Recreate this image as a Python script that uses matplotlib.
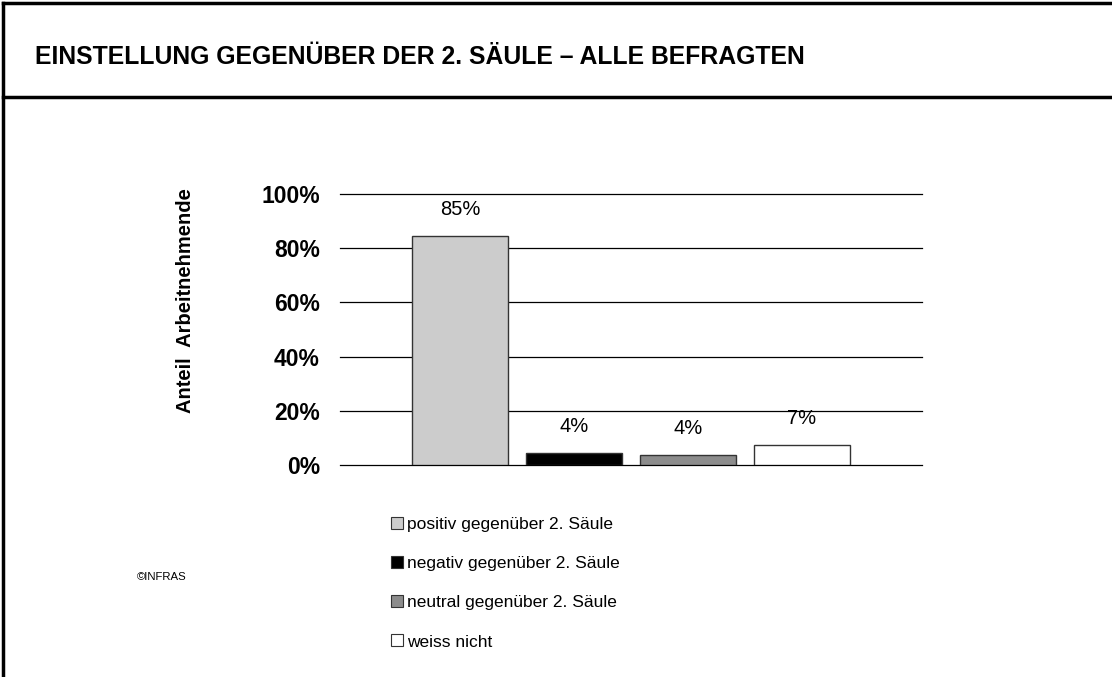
import matplotlib
matplotlib.use("Agg")
import matplotlib.pyplot as plt
from matplotlib.patches import Patch
from matplotlib.lines import Line2D
from matplotlib.ticker import PercentFormatter

# data
categories = ["positiv gegenüber 2. Säule", "negativ gegenüber 2. Säule",
              "neutral gegenüber 2. Säule", "weiss nicht"]
shares = [84.5, 4.4, 3.7, 7.4]
value_labels = ["85%", "4%", "4%", "7%"]
bar_colors = ["#cccccc", "#000000", "#8c8c8c", "#ffffff"]
yticks = [0, 20, 40, 60, 80, 100]

title = "EINSTELLUNG GEGENÜBER DER 2. SÄULE – ALLE BEFRAGTEN"
ylabel = "Anteil  Arbeitnehmende"

plt.rcParams["font.family"] = ["Liberation Sans", "DejaVu Sans"]

W, H = 1112, 677
fig = plt.figure(figsize=(W / 100, H / 100), dpi=100)

# frame lines of the slide
fig.add_artist(Line2D([3 / W, 3 / W], [0, 1 - 3 / H], color="black", lw=2.5))
fig.add_artist(Line2D([3 / W, 1], [1 - 3 / H, 1 - 3 / H], color="black", lw=2.5))
fig.add_artist(Line2D([3 / W, 1], [1 - 97 / H, 1 - 97 / H], color="black", lw=2.5))

fig.text(35 / W, 1 - 57 / H, title, fontsize=17.8, fontweight="bold",
         va="center", ha="left")

ax = fig.add_axes([340 / W, 1 - 465 / H, 582 / W, 271 / H])
x = list(range(len(shares)))
for t in yticks:
    ax.axhline(t, color="black", linewidth=0.9, zorder=1, clip_on=False)
bars = ax.bar(x, shares, width=96 / 114, color=bar_colors,
              edgecolor="#333333", linewidth=1, zorder=3)
for xi, v, lab in zip(x, shares, value_labels):
    ax.annotate(lab, (xi, v), xytext=(0, 12), textcoords="offset points",
                ha="center", va="bottom", fontsize=14.5)

ax.set_xlim(-120 / 114, 3 + 120 / 114)
ax.set_ylim(0, 100)
ax.set_yticks(yticks)
ax.yaxis.set_major_formatter(PercentFormatter(decimals=0))
ax.set_xticks([])
ax.tick_params(axis="y", length=0, pad=14.5, labelsize=16.5)
for lbl in ax.get_yticklabels():
    lbl.set_fontweight("bold")
for s in ax.spines.values():
    s.set_visible(False)

fig.text(186 / W, 1 - 301 / H, ylabel, rotation=90, fontsize=14.5,
         fontweight="bold", ha="center", va="center")

handles = [Patch(facecolor=c, edgecolor="#333333", linewidth=0.8)
           for c in bar_colors]
fig.legend(handles, categories, loc="upper left",
           bbox_to_anchor=(384 / W, 1 - 510 / H), frameon=False,
           prop={"size": 12.5}, handlelength=0.68,
           handleheight=0.68, handletextpad=0.25, labelspacing=1.39,
           borderaxespad=0)

fig.text(137 / W, 1 - 577 / H, "©INFRAS", fontsize=8.2,
         va="center", ha="left")

fig.savefig("out.png", dpi=100, facecolor="white")
